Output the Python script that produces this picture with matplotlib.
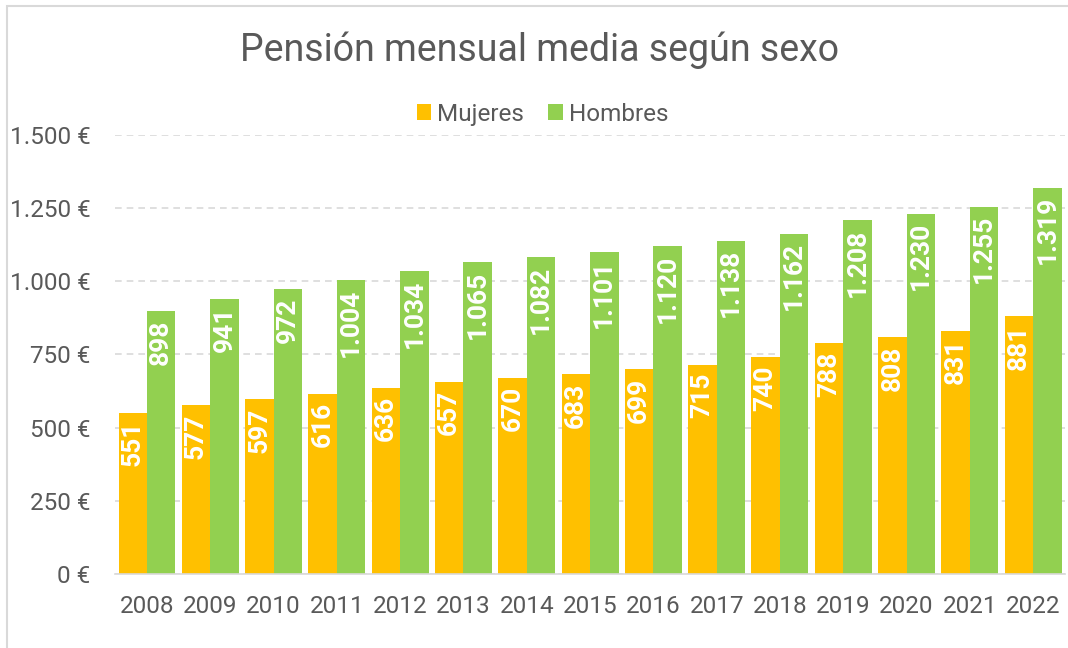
import matplotlib.pyplot as plt
import matplotlib.patches as patches
import numpy as np

years = ['2008', '2009', '2010', '2011', '2012', '2013', '2014', '2015',
         '2016', '2017', '2018', '2019', '2020', '2021', '2022']
mujeres = [551, 577, 597, 616, 636, 657, 670, 683, 699, 715, 740, 788, 808, 831, 881]
hombres = [898, 941, 972, 1004, 1034, 1065, 1082, 1101, 1120, 1138, 1162, 1208, 1230, 1255, 1319]

plt.rcParams['font.family'] = ['Roboto', 'DejaVu Sans']

ORANGE = '#FFC000'
GREEN = '#92D050'
GREY = '#595959'


def euro(v):
    # thousands with a dot, Spanish style
    return f'{v:,.0f}'.replace(',', '.')


fig = plt.figure(figsize=(10.68, 6.48), dpi=100)
ax = fig.add_axes([0.108, 0.114, 0.889, 0.678])

# light frame around the whole chart
fig.patches.append(patches.Rectangle((7 / 1068, -0.1), 1.2, 1 - 6 / 648 + 0.1,
                                     transform=fig.transFigure, fill=False,
                                     edgecolor='#D9D9D9', linewidth=1.5))

x = np.arange(len(years))
w = 0.45
b1 = ax.bar(x - w / 2, mujeres, w, color=ORANGE, label='Mujeres', zorder=2)
b2 = ax.bar(x + w / 2, hombres, w, color=GREEN, label='Hombres', zorder=2)

# value labels inside the bars, rotated
for bars, vals in [(b1, mujeres), (b2, hombres)]:
    for r, v in zip(bars, vals):
        ax.annotate(euro(v), (r.get_x() + r.get_width() / 2, v),
                    xytext=(0, -6), textcoords='offset points',
                    ha='center', va='top', rotation=90, color='white',
                    fontsize=19, fontweight='bold', zorder=3)

ax.set_xlim(-0.5, len(years) - 0.5)
ax.set_ylim(0, 1500)
ticks = [0, 250, 500, 750, 1000, 1250, 1500]
ax.set_yticks(ticks)
ax.set_yticklabels([euro(t) + ' €' for t in ticks])
ax.set_xticks(x)
ax.set_xticklabels(years)
ax.tick_params(axis='both', length=0, labelsize=17.5, labelcolor=GREY)
ax.tick_params(axis='y', pad=18)
ax.tick_params(axis='x', pad=15)

ax.grid(axis='y', color='#D9D9D9', linestyle=(0, (4, 3)), linewidth=1.2, zorder=0)
for s in ['top', 'right', 'left']:
    ax.spines[s].set_visible(False)
ax.spines['bottom'].set_color('#D9D9D9')
ax.spines['bottom'].set_linewidth(1.2)

fig.text(0.505, 0.922, 'Pensión mensual media según sexo', ha='center', va='center',
         fontsize=27, color=GREY)
fig.legend(loc='center', bbox_to_anchor=(0.508, 0.824), ncol=2, frameon=False,
           fontsize=17.5, labelcolor=GREY, handlelength=0.6, handleheight=0.6,
           handletextpad=0.25, columnspacing=1.0)

fig.savefig('out.png', dpi=100)
